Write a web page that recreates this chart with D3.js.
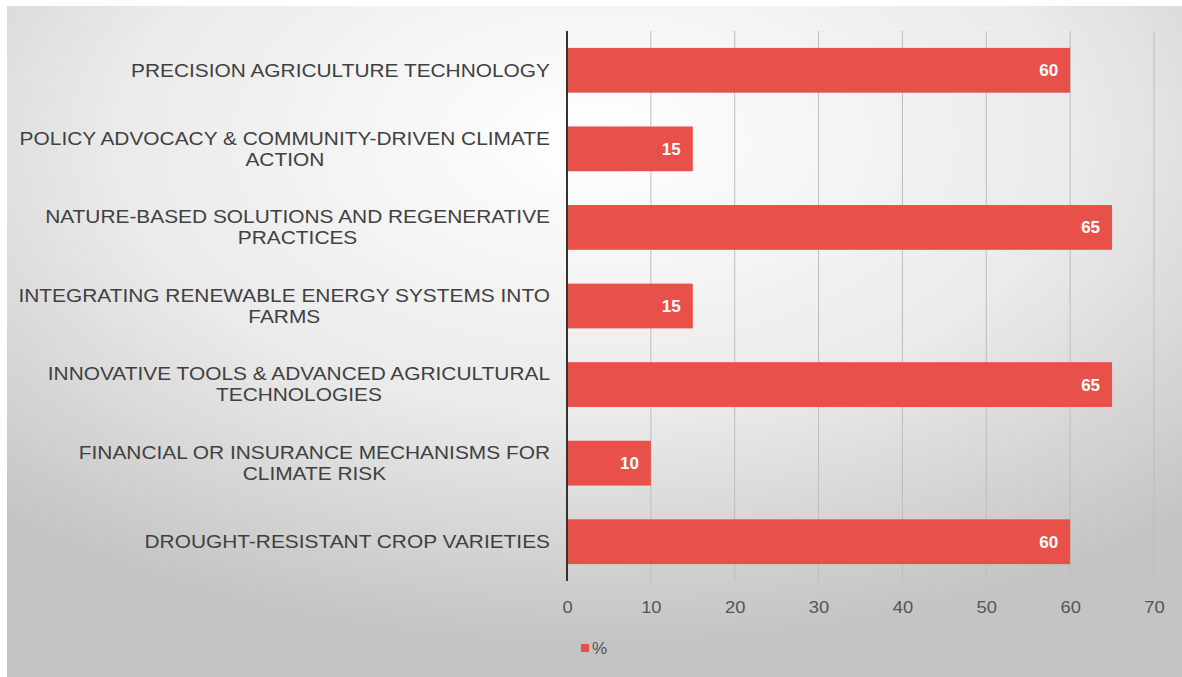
<!DOCTYPE html>
<html>
<head>
<meta charset="utf-8">
<script src="https://cdn.jsdelivr.net/npm/d3@7"></script>
<style>
  body { margin: 0; background: #fff; }
  svg { display: block; }
</style>
</head>
<body>
<svg width="1182" height="677"></svg>
<script>
// data, top to bottom
var categories = [
    ["PRECISION AGRICULTURE TECHNOLOGY"],
    ["POLICY ADVOCACY & COMMUNITY-DRIVEN CLIMATE", "ACTION"],
    ["NATURE-BASED SOLUTIONS AND REGENERATIVE", "PRACTICES"],
    ["INTEGRATING RENEWABLE ENERGY SYSTEMS INTO", "FARMS"],
    ["INNOVATIVE TOOLS & ADVANCED AGRICULTURAL", "TECHNOLOGIES"],
    ["FINANCIAL OR INSURANCE MECHANISMS FOR", "CLIMATE RISK"],
    ["DROUGHT-RESISTANT CROP VARIETIES"]
];
var values = [60, 15, 65, 15, 65, 10, 60];
var ticks = [0, 10, 20, 30, 40, 50, 60, 70];
var seriesName = "%";

var svg = d3.select("svg"),
    width = +svg.attr("width"),
    height = +svg.attr("height");

var font = "Liberation Sans, Arial, sans-serif";
var stretch = 1.16; // the picture's text is a bit wide

var defs = svg.append("defs");
var grad = defs.append("radialGradient")
    .attr("id", "bg")
    .attr("cx", "0.5").attr("cy", "0.2").attr("r", "0.75");
grad.append("stop").attr("offset", "0%").attr("stop-color", "#ffffff");
grad.append("stop").attr("offset", "55%").attr("stop-color", "#eaeaea");
grad.append("stop").attr("offset", "100%").attr("stop-color", "#c4c4c4");

svg.append("rect")
    .attr("x", 7).attr("y", 6)
    .attr("width", width - 7).attr("height", height - 6)
    .attr("fill", "url(#bg)");

var x = d3.scaleLinear().domain([0, 70]).range([567, 1154]);
var y = d3.scaleBand()
    .domain(d3.range(values.length))
    .range([31, 581])
    .paddingInner(0.43)
    .paddingOuter(0.215);

// gridlines
svg.append("g")
    .selectAll("line")
    .data(ticks.slice(1))
    .enter().append("line")
    .attr("x1", function(d) { return x(d); })
    .attr("x2", function(d) { return x(d); })
    .attr("y1", 31)
    .attr("y2", 581)
    .attr("stroke", "#bdbdbd")
    .attr("stroke-width", 1);

svg.append("g")
    .selectAll("rect")
    .data(values)
    .enter().append("rect")
    .attr("x", x(0))
    .attr("y", function(d, i) { return y(i); })
    .attr("width", function(d) { return x(d) - x(0); })
    .attr("height", y.bandwidth())
    .attr("fill", "#e8514a");

// axis line at zero
svg.append("line")
    .attr("x1", x(0)).attr("x2", x(0))
    .attr("y1", 31).attr("y2", 581)
    .attr("stroke", "#333").attr("stroke-width", 2);

var axis = svg.append("g")
    .attr("transform", "translate(0,581)")
    .call(d3.axisBottom(x).tickValues(ticks).tickSize(0).tickPadding(20));
axis.select(".domain").remove();
axis.selectAll("text")
    .attr("font-family", font)
    .attr("font-size", "17px")
    .attr("fill", "#555")
    .attr("transform", "scale(1.08,1)");

// value labels
svg.append("g")
    .selectAll("text")
    .data(values)
    .enter().append("text")
    .attr("x", function(d) { return x(d) - 12; })
    .attr("y", function(d, i) { return y(i) + y.bandwidth() / 2; })
    .attr("dy", "0.35em")
    .attr("text-anchor", "end")
    .attr("font-family", font)
    .attr("font-size", "17px")
    .attr("font-weight", "bold")
    .attr("fill", "#fff")
    .text(function(d) { return d; });

// category labels: block right aligned, lines centred in it
var labelRight = 550, lineH = 21;
var lab = svg.append("g")
    .selectAll("g")
    .data(categories)
    .enter().append("g")
    .attr("transform", function(d, i) {
        return "translate(" + labelRight + "," + (y(i) + y.bandwidth() / 2) + ") scale(" + stretch + ",1)";
    });

lab.each(function(lines) {
    var g = d3.select(this);
    var texts = g.selectAll("text")
        .data(lines)
        .enter().append("text")
        .attr("font-family", font)
        .attr("font-size", "18px")
        .attr("fill", "#404040")
        .attr("text-anchor", "middle")
        .attr("y", function(d, k) { return (k - (lines.length - 1) / 2) * lineH; })
        .attr("dy", "0.35em")
        .text(function(d) { return d; });
    var w = 0;
    texts.each(function() { w = Math.max(w, this.getComputedTextLength()); });
    texts.attr("x", -w / 2);
});

// legend
var legend = svg.append("g").attr("transform", "translate(581,648)");
legend.append("rect")
    .attr("x", 0).attr("y", -4)
    .attr("width", 8).attr("height", 8)
    .attr("fill", "#e8514a");
legend.append("text")
    .attr("x", 11).attr("y", 0)
    .attr("dy", "0.35em")
    .attr("font-family", font)
    .attr("font-size", "17px")
    .attr("fill", "#555")
    .text(seriesName);
</script>
</body>
</html>
